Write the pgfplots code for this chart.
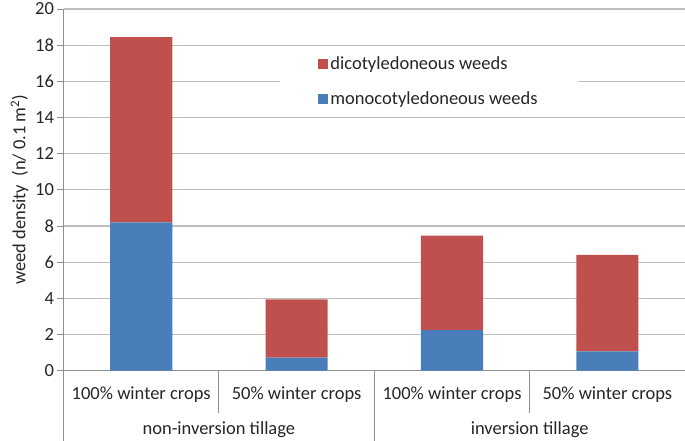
\documentclass[border=0pt]{standalone}
\usepackage{fontspec}
\setmainfont{Carlito}
\usepackage{pgfplots}
\pgfplotsset{compat=1.18}
\definecolor{monoblue}{HTML}{4A7EBB}
\definecolor{dicored}{HTML}{C0504D}
\definecolor{gridgray}{HTML}{BEBEBE}
\definecolor{axisgray}{HTML}{909090}
\begin{document}
\begin{tikzpicture}
\path[use as bounding box] (0,0) rectangle (685pt,440pt);
\begin{axis}[
  at={(63.5pt,69.3pt)}, anchor=south west,
  scale only axis, width=621.6pt, height=361.7pt,
  xmin=0, xmax=4, ymin=0, ymax=20,
  ybar stacked, bar width=0.4,
  axis x line*=bottom, axis y line*=left,
  axis line style={-, axisgray, line width=0.9pt},
  ytick={0,2,...,20},
  ymajorgrids, grid style={gridgray, line width=1.1pt},
  tick align=outside, major tick length=6pt,
  y tick style={axisgray, line width=0.9pt},
  xtick={0.5,1.5,2.5,3.5},
  xticklabels={100\% winter crops,50\% winter crops,100\% winter crops,50\% winter crops},
  x tick style={draw=none},
  xticklabel style={anchor=base, yshift=-23pt},
  tick label style={font=\fontsize{18.5}{22}\selectfont, text=black!85},
  /pgf/number format/assume math mode=true,
  ylabel={weed density\ \ (n/ 0.1 m\textsuperscript{2})},
  ylabel style={font=\fontsize{18.5}{22}\selectfont, text=black!85},
  clip=false,
  reverse legend,
  legend cell align=left,
  legend image code/.code={\fill[#1] (0pt,-5pt) rectangle (10pt,5pt);},
  legend style={at={(rel axis cs:0.588,0.800)}, anchor=center, draw=none, fill=white,
    inner xsep=38pt, inner ysep=8pt, row sep=16pt,
    font=\fontsize{18.5}{22}\selectfont, text=black!85},
]
\addplot[fill=monoblue, draw=none] coordinates {(0.5,8.2) (1.5,0.72) (2.5,2.25) (3.5,1.07)};
\addplot[fill=dicored, draw=none] coordinates {(0.5,10.25) (1.5,3.22) (2.5,5.22) (3.5,5.34)};
\legend{monocotyledoneous weeds, dicotyledoneous weeds}
\draw[axisgray, line width=0.9pt] (axis cs:1,0) -- ++(0,-42pt);
\draw[axisgray, line width=0.9pt] (axis cs:3,0) -- ++(0,-42pt);
\draw[axisgray, line width=0.9pt] (axis cs:2,0) -- ++(0,-72pt);
\draw[axisgray, line width=0.9pt] (axis cs:0,0) -- ++(0,-72pt);
\node[anchor=base, font=\fontsize{18.5}{22}\selectfont, text=black!85] at ([yshift=-64pt]axis cs:1,0) {non-inversion tillage};
\node[anchor=base, font=\fontsize{18.5}{22}\selectfont, text=black!85] at ([yshift=-64pt]axis cs:3,0) {inversion tillage};
\end{axis}
\end{tikzpicture}
\end{document}
